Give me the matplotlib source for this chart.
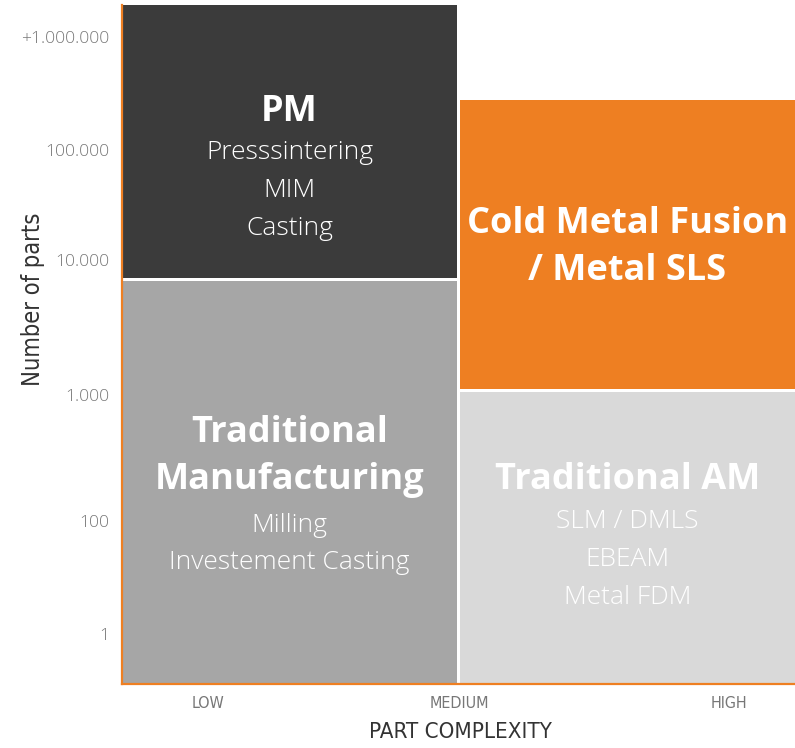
import matplotlib
matplotlib.use("Agg")
import matplotlib.pyplot as plt

# data (axes fraction units, 0..1)
blocks = ["PM", "Traditional\nManufacturing", "Cold Metal Fusion\n/ Metal SLS", "Traditional AM"]
subtitles = [["Presssintering", "MIM", "Casting"],
             ["Milling", "Investement Casting"],
             [],
             ["SLM / DMLS", "EBEAM", "Metal FDM"]]
x_left = [0.0, 0.0, 0.502, 0.502]
x_right = [0.498, 0.498, 1.0, 1.0]
y_low = [0.598, 0.0, 0.434, 0.0]
y_high = [1.0, 0.594, 0.860, 0.430]
colors = ["#3b3b3b", "#a6a6a6", "#ee7f22", "#d9d9d9"]

y_ticks = [0.074, 0.240, 0.426, 0.624, 0.786, 0.953]
y_ticklabels = ["1", "100", "1.000", "10.000", "100.000", "+1.000.000"]
x_ticks = [0.128, 0.502, 0.902]
x_ticklabels = ["LOW", "MEDIUM", "HIGH"]

# text positions
title_y = [0.843, 0.3345, 0.643, 0.300]
sub_y0 = [0.782, 0.234, None, 0.239]
sub_step = 0.0555

orange = "#ee7f22"
body = ["Open Sans", "DejaVu Sans"]

fig = plt.figure(figsize=(7.95, 7.48), dpi=100)
ax = fig.add_axes([0.1535, 0.0856, 0.8465, 0.9078])

widths = [r - l for l, r in zip(x_left, x_right)]
heights = [h - l for l, h in zip(y_low, y_high)]
ax.bar(x_left, heights, width=widths, bottom=y_low, align="edge", color=colors)

for i, name in enumerate(blocks):
    cx = (x_left[i] + x_right[i]) / 2
    ax.text(cx, title_y[i], name, ha="center", va="center", color="white",
            fontsize=26, fontweight="bold", family=body, linespacing=1.4)
    for j, s in enumerate(subtitles[i]):
        ax.text(cx, sub_y0[i] - j * sub_step, s, ha="center", va="center",
                color="white", fontsize=19, fontweight="light", family=body)

ax.set_xlim(0, 1)
ax.set_ylim(0, 1)
ax.set_xticks(x_ticks)
ax.set_xticklabels(x_ticklabels, family="DejaVu Sans", fontstretch="condensed",
                   fontweight="light", fontsize=11.5, color="#777777")
ax.set_yticks(y_ticks)
ax.set_yticklabels(y_ticklabels, family=body, fontweight="light", fontsize=12.5,
                   color="#777777")
ax.tick_params(length=0, pad=9)

ax.set_xlabel("PART COMPLEXITY", family="DejaVu Sans", fontstretch="condensed",
              fontsize=16, color="#333333")
ax.set_ylabel("Number of parts", family="DejaVu Sans", fontstretch="condensed",
              fontsize=17, color="#333333")
ax.xaxis.set_label_coords(0.503, -0.056)
ax.yaxis.set_label_coords(-0.114, 0.566)

for side in ["top", "right"]:
    ax.spines[side].set_visible(False)
for side in ["left", "bottom"]:
    ax.spines[side].set_color(orange)
    ax.spines[side].set_linewidth(1.6)

fig.savefig("out.png", dpi=100)
